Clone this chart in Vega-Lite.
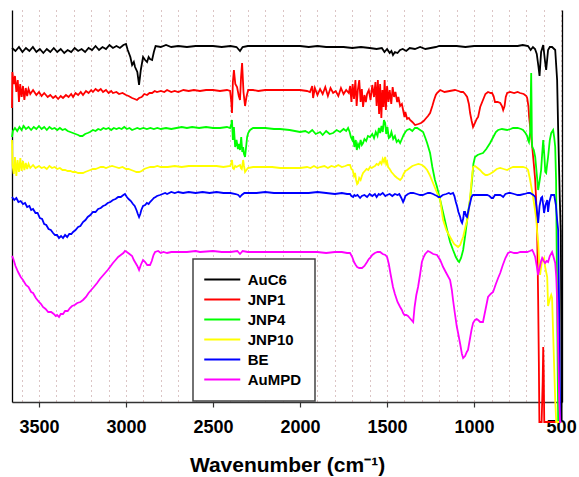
{
"$schema": "https://vega.github.io/schema/vega-lite/v6.json",
"width": 550, "height": 392,
"autosize": {"type": "none"},
"padding": {"left": 12, "top": 10, "right": 17, "bottom": 75},
"background": "white",
"config": {"view": {"stroke": null}, "font": "Liberation Sans",
  "legend": {"strokeColor": "#444444", "strokeWidth": 1.5, "fillColor": "white"},
  "line": {"clip": true, "strokeWidth": 1.8}},
"datasets": {
"AuC6": [{"w":3655,"t":354},{"w":3635,"t":351},{"w":3615,"t":355},{"w":3595,"t":350},{"w":3575,"t":354},{"w":3555,"t":351},{"w":3535,"t":355},{"w":3515,"t":350},{"w":3495,"t":353},{"w":3475,"t":349},{"w":3455,"t":353},{"w":3435,"t":350},{"w":3415,"t":354},{"w":3395,"t":350},{"w":3375,"t":353},{"w":3355,"t":349},{"w":3335,"t":352},{"w":3315,"t":350},{"w":3295,"t":354},{"w":3275,"t":351},{"w":3255,"t":353},{"w":3235,"t":350},{"w":3215,"t":354},{"w":3195,"t":352},{"w":3175,"t":356},{"w":3155,"t":352},{"w":3135,"t":355},{"w":3115,"t":353},{"w":3095,"t":357},{"w":3075,"t":354},{"w":3055,"t":356},{"w":3035,"t":354},{"w":3015,"t":357},{"w":3000,"t":358},{"w":2990,"t":352},{"w":2975,"t":345},{"w":2965,"t":337},{"w":2955,"t":340},{"w":2948,"t":335},{"w":2935,"t":330},{"w":2925,"t":317},{"w":2915,"t":332},{"w":2902,"t":345},{"w":2890,"t":342},{"w":2879,"t":340},{"w":2870,"t":345},{"w":2862,"t":343},{"w":2850,"t":342},{"w":2840,"t":350},{"w":2830,"t":356},{"w":2800,"t":355},{"w":2770,"t":357},{"w":2740,"t":355},{"w":2700,"t":356},{"w":2650,"t":355},{"w":2600,"t":356},{"w":2550,"t":356},{"w":2500,"t":356},{"w":2450,"t":355},{"w":2400,"t":356},{"w":2365,"t":355},{"w":2345,"t":351},{"w":2330,"t":355},{"w":2300,"t":356},{"w":2250,"t":356},{"w":2200,"t":356},{"w":2150,"t":356},{"w":2100,"t":356},{"w":2050,"t":356},{"w":2000,"t":356},{"w":1950,"t":355},{"w":1900,"t":356},{"w":1850,"t":355},{"w":1800,"t":355},{"w":1750,"t":355},{"w":1700,"t":354},{"w":1650,"t":355},{"w":1600,"t":354},{"w":1560,"t":353},{"w":1530,"t":354},{"w":1515,"t":350},{"w":1500,"t":353},{"w":1485,"t":349},{"w":1475,"t":351},{"w":1466,"t":347},{"w":1455,"t":350},{"w":1440,"t":349},{"w":1425,"t":352},{"w":1410,"t":353},{"w":1390,"t":351},{"w":1370,"t":354},{"w":1340,"t":353},{"w":1310,"t":355},{"w":1280,"t":353},{"w":1250,"t":354},{"w":1220,"t":355},{"w":1200,"t":356},{"w":1150,"t":356},{"w":1100,"t":356},{"w":1050,"t":355},{"w":1000,"t":356},{"w":950,"t":356},{"w":900,"t":356},{"w":850,"t":356},{"w":800,"t":356},{"w":750,"t":356},{"w":720,"t":357},{"w":690,"t":356},{"w":675,"t":352},{"w":662,"t":355},{"w":650,"t":353},{"w":640,"t":348},{"w":630,"t":335},{"w":624,"t":326},{"w":615,"t":350},{"w":603,"t":357},{"w":592,"t":340},{"w":586,"t":332},{"w":575,"t":352},{"w":565,"t":355},{"w":552,"t":355},{"w":534,"t":352},{"w":523,"t":322},{"w":517,"t":272},{"w":508,"t":205},{"w":502,"t":170},{"w":499,"t":80},{"w":497,"t":-20}],
"JNP1": [{"w":3655,"t":294},{"w":3653,"t":330},{"w":3645,"t":318},{"w":3638,"t":326},{"w":3630,"t":310},{"w":3622,"t":322},{"w":3615,"t":300},{"w":3608,"t":318},{"w":3600,"t":305},{"w":3592,"t":316},{"w":3584,"t":302},{"w":3576,"t":314},{"w":3568,"t":306},{"w":3560,"t":313},{"w":3550,"t":308},{"w":3534,"t":312},{"w":3515,"t":307},{"w":3500,"t":310},{"w":3485,"t":306},{"w":3470,"t":309},{"w":3450,"t":305},{"w":3435,"t":307},{"w":3419,"t":304},{"w":3405,"t":306},{"w":3390,"t":303},{"w":3375,"t":306},{"w":3362,"t":304},{"w":3345,"t":307},{"w":3330,"t":305},{"w":3315,"t":308},{"w":3304,"t":305},{"w":3290,"t":309},{"w":3275,"t":307},{"w":3260,"t":310},{"w":3247,"t":307},{"w":3230,"t":311},{"w":3215,"t":309},{"w":3200,"t":312},{"w":3190,"t":310},{"w":3175,"t":313},{"w":3160,"t":311},{"w":3145,"t":313},{"w":3132,"t":310},{"w":3115,"t":312},{"w":3100,"t":309},{"w":3085,"t":311},{"w":3075,"t":309},{"w":3055,"t":310},{"w":3040,"t":308},{"w":3020,"t":309},{"w":3000,"t":307},{"w":2985,"t":306},{"w":2965,"t":304},{"w":2950,"t":303},{"w":2937,"t":302},{"w":2925,"t":304},{"w":2910,"t":305},{"w":2895,"t":308},{"w":2879,"t":307},{"w":2865,"t":309},{"w":2850,"t":309},{"w":2835,"t":311},{"w":2822,"t":310},{"w":2800,"t":311},{"w":2780,"t":310},{"w":2764,"t":312},{"w":2740,"t":310},{"w":2720,"t":311},{"w":2700,"t":310},{"w":2670,"t":312},{"w":2640,"t":311},{"w":2610,"t":312},{"w":2575,"t":311},{"w":2540,"t":312},{"w":2500,"t":312},{"w":2460,"t":311},{"w":2420,"t":312},{"w":2402,"t":311},{"w":2395,"t":300},{"w":2391,"t":289},{"w":2386,"t":320},{"w":2380,"t":332},{"w":2372,"t":318},{"w":2362,"t":315},{"w":2352,"t":306},{"w":2345,"t":302},{"w":2339,"t":325},{"w":2333,"t":339},{"w":2325,"t":310},{"w":2316,"t":296},{"w":2308,"t":305},{"w":2298,"t":312},{"w":2270,"t":312},{"w":2240,"t":311},{"w":2200,"t":312},{"w":2160,"t":312},{"w":2115,"t":312},{"w":2060,"t":312},{"w":2000,"t":312},{"w":1960,"t":311},{"w":1943,"t":310},{"w":1930,"t":316},{"w":1925,"t":304},{"w":1915,"t":314},{"w":1900,"t":307},{"w":1885,"t":313},{"w":1870,"t":308},{"w":1855,"t":315},{"w":1840,"t":306},{"w":1825,"t":314},{"w":1810,"t":309},{"w":1795,"t":311},{"w":1780,"t":306},{"w":1765,"t":314},{"w":1750,"t":308},{"w":1735,"t":312},{"w":1720,"t":309},{"w":1712,"t":316},{"w":1705,"t":300},{"w":1698,"t":318},{"w":1690,"t":303},{"w":1682,"t":322},{"w":1675,"t":296},{"w":1668,"t":312},{"w":1660,"t":322},{"w":1652,"t":300},{"w":1645,"t":313},{"w":1638,"t":295},{"w":1630,"t":307},{"w":1622,"t":300},{"w":1615,"t":308},{"w":1605,"t":312},{"w":1595,"t":302},{"w":1585,"t":317},{"w":1575,"t":305},{"w":1567,"t":320},{"w":1560,"t":296},{"w":1553,"t":322},{"w":1546,"t":288},{"w":1540,"t":318},{"w":1533,"t":284},{"w":1527,"t":312},{"w":1520,"t":295},{"w":1514,"t":322},{"w":1507,"t":292},{"w":1500,"t":316},{"w":1492,"t":300},{"w":1485,"t":312},{"w":1476,"t":298},{"w":1468,"t":315},{"w":1460,"t":305},{"w":1452,"t":310},{"w":1442,"t":300},{"w":1435,"t":305},{"w":1425,"t":296},{"w":1415,"t":298},{"w":1408,"t":292},{"w":1400,"t":285},{"w":1395,"t":290},{"w":1385,"t":283},{"w":1375,"t":284},{"w":1368,"t":282},{"w":1355,"t":280},{"w":1339,"t":277},{"w":1320,"t":278},{"w":1305,"t":279},{"w":1290,"t":281},{"w":1275,"t":284},{"w":1265,"t":286},{"w":1253,"t":289},{"w":1240,"t":296},{"w":1230,"t":302},{"w":1220,"t":307},{"w":1213,"t":309},{"w":1195,"t":312},{"w":1170,"t":310},{"w":1140,"t":311},{"w":1110,"t":312},{"w":1090,"t":311},{"w":1075,"t":310},{"w":1063,"t":310},{"w":1052,"t":308},{"w":1040,"t":305},{"w":1030,"t":298},{"w":1023,"t":289},{"w":1014,"t":281},{"w":1006,"t":275},{"w":995,"t":279},{"w":985,"t":283},{"w":977,"t":285},{"w":965,"t":295},{"w":949,"t":302},{"w":935,"t":308},{"w":920,"t":310},{"w":905,"t":309},{"w":897,"t":309},{"w":888,"t":306},{"w":880,"t":300},{"w":865,"t":300},{"w":850,"t":299},{"w":840,"t":296},{"w":833,"t":292},{"w":825,"t":296},{"w":818,"t":305},{"w":810,"t":309},{"w":793,"t":310},{"w":770,"t":309},{"w":750,"t":310},{"w":736,"t":309},{"w":715,"t":308},{"w":700,"t":306},{"w":695,"t":304},{"w":688,"t":296},{"w":684,"t":285},{"w":676,"t":272},{"w":666,"t":255},{"w":657,"t":238},{"w":649,"t":222},{"w":643,"t":200},{"w":638,"t":172},{"w":635,"t":140},{"w":632,"t":102},{"w":628,"t":40},{"w":625,"t":-20},{"w":612,"t":-20},{"w":606,"t":20},{"w":603,"t":55},{"w":600,"t":30},{"w":597,"t":-20},{"w":500,"t":-20}],
"JNP4": [{"w":3655,"t":265},{"w":3650,"t":271},{"w":3638,"t":274},{"w":3625,"t":271},{"w":3612,"t":275},{"w":3600,"t":272},{"w":3588,"t":276},{"w":3575,"t":273},{"w":3560,"t":275},{"w":3545,"t":272},{"w":3530,"t":275},{"w":3515,"t":273},{"w":3500,"t":276},{"w":3485,"t":273},{"w":3470,"t":275},{"w":3455,"t":272},{"w":3440,"t":275},{"w":3425,"t":273},{"w":3410,"t":274},{"w":3395,"t":272},{"w":3380,"t":274},{"w":3365,"t":272},{"w":3350,"t":273},{"w":3335,"t":271},{"w":3320,"t":270},{"w":3305,"t":269},{"w":3290,"t":268},{"w":3275,"t":267},{"w":3264,"t":266},{"w":3250,"t":266},{"w":3235,"t":268},{"w":3220,"t":269},{"w":3207,"t":270},{"w":3190,"t":272},{"w":3175,"t":271},{"w":3160,"t":273},{"w":3145,"t":272},{"w":3130,"t":274},{"w":3115,"t":273},{"w":3100,"t":274},{"w":3085,"t":272},{"w":3070,"t":274},{"w":3055,"t":273},{"w":3040,"t":274},{"w":3025,"t":273},{"w":3010,"t":275},{"w":2995,"t":273},{"w":2980,"t":274},{"w":2965,"t":272},{"w":2950,"t":273},{"w":2935,"t":274},{"w":2920,"t":273},{"w":2900,"t":274},{"w":2880,"t":273},{"w":2860,"t":274},{"w":2840,"t":273},{"w":2820,"t":274},{"w":2800,"t":273},{"w":2770,"t":274},{"w":2740,"t":273},{"w":2710,"t":274},{"w":2680,"t":275},{"w":2650,"t":274},{"w":2620,"t":275},{"w":2580,"t":274},{"w":2540,"t":275},{"w":2500,"t":274},{"w":2460,"t":274},{"w":2420,"t":275},{"w":2402,"t":274},{"w":2395,"t":278},{"w":2391,"t":282},{"w":2386,"t":262},{"w":2380,"t":275},{"w":2373,"t":255},{"w":2365,"t":262},{"w":2357,"t":253},{"w":2350,"t":258},{"w":2345,"t":252},{"w":2338,"t":265},{"w":2332,"t":250},{"w":2327,"t":255},{"w":2322,"t":248},{"w":2316,"t":245},{"w":2310,"t":255},{"w":2304,"t":265},{"w":2298,"t":269},{"w":2287,"t":272},{"w":2270,"t":274},{"w":2250,"t":274},{"w":2200,"t":274},{"w":2150,"t":273},{"w":2115,"t":273},{"w":2060,"t":272},{"w":2000,"t":270},{"w":1970,"t":271},{"w":1950,"t":269},{"w":1930,"t":272},{"w":1910,"t":268},{"w":1885,"t":270},{"w":1870,"t":267},{"w":1850,"t":271},{"w":1830,"t":268},{"w":1810,"t":269},{"w":1790,"t":272},{"w":1770,"t":270},{"w":1750,"t":273},{"w":1735,"t":271},{"w":1724,"t":274},{"w":1715,"t":270},{"w":1708,"t":265},{"w":1700,"t":262},{"w":1695,"t":266},{"w":1688,"t":255},{"w":1680,"t":262},{"w":1674,"t":252},{"w":1667,"t":258},{"w":1660,"t":255},{"w":1652,"t":262},{"w":1645,"t":257},{"w":1638,"t":259},{"w":1630,"t":263},{"w":1620,"t":261},{"w":1610,"t":266},{"w":1598,"t":265},{"w":1585,"t":268},{"w":1575,"t":264},{"w":1565,"t":270},{"w":1555,"t":266},{"w":1547,"t":274},{"w":1540,"t":269},{"w":1532,"t":276},{"w":1525,"t":270},{"w":1518,"t":282},{"w":1511,"t":279},{"w":1505,"t":268},{"w":1498,"t":275},{"w":1490,"t":264},{"w":1483,"t":265},{"w":1475,"t":270},{"w":1465,"t":263},{"w":1455,"t":266},{"w":1445,"t":260},{"w":1435,"t":262},{"w":1425,"t":259},{"w":1415,"t":263},{"w":1405,"t":267},{"w":1395,"t":270},{"w":1385,"t":272},{"w":1370,"t":273},{"w":1355,"t":271},{"w":1340,"t":274},{"w":1327,"t":274},{"w":1310,"t":272},{"w":1293,"t":270},{"w":1280,"t":264},{"w":1270,"t":259},{"w":1253,"t":249},{"w":1240,"t":235},{"w":1225,"t":222},{"w":1213,"t":215},{"w":1195,"t":202},{"w":1175,"t":187},{"w":1155,"t":172},{"w":1138,"t":160},{"w":1121,"t":152},{"w":1105,"t":145},{"w":1092,"t":141},{"w":1086,"t":140},{"w":1075,"t":144},{"w":1063,"t":152},{"w":1050,"t":168},{"w":1040,"t":182},{"w":1030,"t":195},{"w":1023,"t":202},{"w":1012,"t":222},{"w":1004,"t":238},{"w":995,"t":245},{"w":980,"t":247},{"w":966,"t":248},{"w":949,"t":249},{"w":930,"t":253},{"w":908,"t":259},{"w":890,"t":265},{"w":875,"t":270},{"w":862,"t":272},{"w":840,"t":273},{"w":810,"t":272},{"w":790,"t":273},{"w":776,"t":274},{"w":750,"t":274},{"w":730,"t":273},{"w":719,"t":272},{"w":705,"t":269},{"w":695,"t":266},{"w":690,"t":262},{"w":685,"t":260},{"w":678,"t":270},{"w":674,"t":310},{"w":672,"t":329},{"w":670,"t":300},{"w":668,"t":262},{"w":666,"t":255},{"w":657,"t":252},{"w":649,"t":245},{"w":640,"t":228},{"w":632,"t":212},{"w":623,"t":222},{"w":615,"t":232},{"w":609,"t":248},{"w":603,"t":262},{"w":596,"t":245},{"w":591,"t":230},{"w":586,"t":229},{"w":580,"t":238},{"w":575,"t":245},{"w":565,"t":262},{"w":557,"t":269},{"w":546,"t":272},{"w":540,"t":265},{"w":534,"t":255},{"w":529,"t":222},{"w":526,"t":160},{"w":523,"t":102},{"w":520,"t":40},{"w":517,"t":-20},{"w":500,"t":-20}],
"JNP10": [{"w":3655,"t":262},{"w":3652,"t":237},{"w":3645,"t":228},{"w":3638,"t":245},{"w":3630,"t":226},{"w":3623,"t":242},{"w":3615,"t":230},{"w":3607,"t":244},{"w":3600,"t":231},{"w":3592,"t":241},{"w":3584,"t":232},{"w":3576,"t":239},{"w":3568,"t":233},{"w":3560,"t":238},{"w":3550,"t":234},{"w":3534,"t":237},{"w":3520,"t":234},{"w":3500,"t":236},{"w":3485,"t":234},{"w":3470,"t":235},{"w":3455,"t":233},{"w":3440,"t":236},{"w":3425,"t":234},{"w":3410,"t":235},{"w":3395,"t":233},{"w":3380,"t":234},{"w":3365,"t":232},{"w":3350,"t":232},{"w":3335,"t":231},{"w":3320,"t":231},{"w":3305,"t":230},{"w":3290,"t":230},{"w":3275,"t":229},{"w":3260,"t":229},{"w":3247,"t":229},{"w":3235,"t":230},{"w":3220,"t":231},{"w":3205,"t":232},{"w":3190,"t":233},{"w":3175,"t":233},{"w":3160,"t":234},{"w":3145,"t":235},{"w":3130,"t":235},{"w":3115,"t":234},{"w":3100,"t":235},{"w":3080,"t":236},{"w":3060,"t":235},{"w":3040,"t":234},{"w":3020,"t":235},{"w":3000,"t":233},{"w":2985,"t":233},{"w":2970,"t":232},{"w":2955,"t":231},{"w":2940,"t":230},{"w":2925,"t":230},{"w":2910,"t":231},{"w":2895,"t":233},{"w":2880,"t":234},{"w":2860,"t":235},{"w":2840,"t":235},{"w":2820,"t":236},{"w":2800,"t":235},{"w":2760,"t":235},{"w":2720,"t":236},{"w":2680,"t":235},{"w":2640,"t":236},{"w":2600,"t":236},{"w":2560,"t":236},{"w":2520,"t":236},{"w":2480,"t":236},{"w":2440,"t":235},{"w":2402,"t":236},{"w":2395,"t":239},{"w":2391,"t":242},{"w":2386,"t":234},{"w":2380,"t":233},{"w":2373,"t":236},{"w":2365,"t":235},{"w":2355,"t":236},{"w":2345,"t":237},{"w":2340,"t":234},{"w":2335,"t":233},{"w":2330,"t":238},{"w":2327,"t":242},{"w":2322,"t":236},{"w":2316,"t":230},{"w":2308,"t":232},{"w":2300,"t":234},{"w":2270,"t":235},{"w":2240,"t":235},{"w":2200,"t":235},{"w":2160,"t":235},{"w":2115,"t":234},{"w":2060,"t":234},{"w":2000,"t":234},{"w":1960,"t":235},{"w":1940,"t":234},{"w":1920,"t":236},{"w":1900,"t":234},{"w":1885,"t":235},{"w":1860,"t":236},{"w":1840,"t":234},{"w":1820,"t":236},{"w":1800,"t":235},{"w":1780,"t":237},{"w":1760,"t":235},{"w":1740,"t":236},{"w":1725,"t":237},{"w":1713,"t":237},{"w":1705,"t":233},{"w":1698,"t":232},{"w":1690,"t":226},{"w":1684,"t":229},{"w":1678,"t":222},{"w":1672,"t":218},{"w":1667,"t":219},{"w":1660,"t":224},{"w":1652,"t":222},{"w":1645,"t":226},{"w":1638,"t":229},{"w":1628,"t":231},{"w":1618,"t":233},{"w":1608,"t":232},{"w":1598,"t":235},{"w":1588,"t":234},{"w":1580,"t":235},{"w":1570,"t":236},{"w":1560,"t":238},{"w":1550,"t":237},{"w":1540,"t":240},{"w":1532,"t":238},{"w":1525,"t":243},{"w":1518,"t":240},{"w":1511,"t":245},{"w":1505,"t":238},{"w":1500,"t":240},{"w":1494,"t":235},{"w":1485,"t":233},{"w":1475,"t":230},{"w":1465,"t":228},{"w":1455,"t":226},{"w":1442,"t":224},{"w":1433,"t":223},{"w":1425,"t":222},{"w":1415,"t":224},{"w":1405,"t":228},{"w":1395,"t":231},{"w":1385,"t":232},{"w":1370,"t":234},{"w":1355,"t":236},{"w":1339,"t":237},{"w":1320,"t":238},{"w":1299,"t":237},{"w":1285,"t":235},{"w":1270,"t":232},{"w":1255,"t":227},{"w":1236,"t":219},{"w":1215,"t":210},{"w":1195,"t":202},{"w":1178,"t":182},{"w":1160,"t":172},{"w":1138,"t":165},{"w":1115,"t":158},{"w":1100,"t":156},{"w":1092,"t":155},{"w":1080,"t":157},{"w":1070,"t":162},{"w":1063,"t":165},{"w":1050,"t":175},{"w":1035,"t":185},{"w":1030,"t":193},{"w":1023,"t":205},{"w":1015,"t":220},{"w":1006,"t":235},{"w":995,"t":236},{"w":980,"t":234},{"w":966,"t":232},{"w":950,"t":229},{"w":935,"t":227},{"w":925,"t":227},{"w":910,"t":228},{"w":891,"t":230},{"w":870,"t":233},{"w":850,"t":234},{"w":830,"t":233},{"w":810,"t":232},{"w":790,"t":234},{"w":776,"t":235},{"w":750,"t":235},{"w":719,"t":235},{"w":700,"t":234},{"w":690,"t":232},{"w":678,"t":222},{"w":670,"t":214},{"w":661,"t":205},{"w":650,"t":192},{"w":642,"t":182},{"w":638,"t":170},{"w":632,"t":160},{"w":626,"t":140},{"w":621,"t":127},{"w":615,"t":135},{"w":609,"t":142},{"w":603,"t":143},{"w":598,"t":144},{"w":592,"t":135},{"w":586,"t":130},{"w":580,"t":125},{"w":575,"t":96},{"w":569,"t":100},{"w":563,"t":104},{"w":557,"t":107},{"w":552,"t":104},{"w":546,"t":69},{"w":540,"t":35},{"w":534,"t":2},{"w":528,"t":-20},{"w":500,"t":-20}],
"BE": [{"w":3655,"t":205},{"w":3642,"t":202},{"w":3630,"t":204},{"w":3618,"t":200},{"w":3605,"t":201},{"w":3592,"t":198},{"w":3580,"t":199},{"w":3568,"t":195},{"w":3555,"t":196},{"w":3545,"t":192},{"w":3534,"t":193},{"w":3520,"t":189},{"w":3508,"t":189},{"w":3495,"t":184},{"w":3482,"t":183},{"w":3470,"t":178},{"w":3458,"t":177},{"w":3445,"t":173},{"w":3432,"t":172},{"w":3419,"t":169},{"w":3408,"t":167},{"w":3396,"t":167},{"w":3385,"t":164},{"w":3373,"t":166},{"w":3362,"t":164},{"w":3350,"t":167},{"w":3338,"t":165},{"w":3326,"t":168},{"w":3314,"t":168},{"w":3304,"t":170},{"w":3290,"t":172},{"w":3275,"t":175},{"w":3262,"t":176},{"w":3247,"t":180},{"w":3233,"t":182},{"w":3220,"t":185},{"w":3205,"t":187},{"w":3190,"t":190},{"w":3175,"t":190},{"w":3160,"t":193},{"w":3145,"t":194},{"w":3132,"t":196},{"w":3118,"t":197},{"w":3105,"t":199},{"w":3090,"t":200},{"w":3075,"t":202},{"w":3060,"t":203},{"w":3045,"t":205},{"w":3030,"t":205},{"w":3015,"t":207},{"w":3006,"t":208},{"w":2995,"t":205},{"w":2985,"t":203},{"w":2972,"t":201},{"w":2960,"t":198},{"w":2950,"t":196},{"w":2940,"t":192},{"w":2932,"t":188},{"w":2925,"t":185},{"w":2918,"t":188},{"w":2912,"t":192},{"w":2902,"t":196},{"w":2890,"t":197},{"w":2880,"t":199},{"w":2870,"t":198},{"w":2862,"t":200},{"w":2850,"t":202},{"w":2840,"t":204},{"w":2830,"t":205},{"w":2822,"t":206},{"w":2805,"t":207},{"w":2790,"t":208},{"w":2775,"t":209},{"w":2764,"t":208},{"w":2740,"t":210},{"w":2720,"t":209},{"w":2700,"t":210},{"w":2672,"t":209},{"w":2640,"t":210},{"w":2600,"t":209},{"w":2560,"t":210},{"w":2520,"t":209},{"w":2480,"t":210},{"w":2440,"t":209},{"w":2400,"t":209},{"w":2370,"t":208},{"w":2355,"t":207},{"w":2345,"t":205},{"w":2335,"t":207},{"w":2320,"t":209},{"w":2290,"t":209},{"w":2250,"t":209},{"w":2200,"t":210},{"w":2150,"t":209},{"w":2115,"t":209},{"w":2060,"t":209},{"w":2000,"t":209},{"w":1950,"t":209},{"w":1900,"t":210},{"w":1850,"t":209},{"w":1800,"t":208},{"w":1760,"t":209},{"w":1730,"t":208},{"w":1713,"t":208},{"w":1705,"t":206},{"w":1695,"t":205},{"w":1688,"t":207},{"w":1680,"t":206},{"w":1670,"t":207},{"w":1660,"t":205},{"w":1655,"t":204},{"w":1645,"t":206},{"w":1630,"t":207},{"w":1615,"t":205},{"w":1600,"t":208},{"w":1585,"t":206},{"w":1570,"t":208},{"w":1560,"t":205},{"w":1548,"t":208},{"w":1540,"t":207},{"w":1525,"t":209},{"w":1510,"t":206},{"w":1500,"t":207},{"w":1485,"t":208},{"w":1470,"t":206},{"w":1455,"t":208},{"w":1440,"t":207},{"w":1430,"t":208},{"w":1418,"t":204},{"w":1408,"t":200},{"w":1400,"t":203},{"w":1395,"t":206},{"w":1380,"t":208},{"w":1365,"t":209},{"w":1350,"t":209},{"w":1330,"t":208},{"w":1310,"t":207},{"w":1295,"t":207},{"w":1281,"t":208},{"w":1265,"t":209},{"w":1253,"t":209},{"w":1236,"t":208},{"w":1225,"t":207},{"w":1213,"t":206},{"w":1205,"t":205},{"w":1195,"t":205},{"w":1180,"t":207},{"w":1160,"t":208},{"w":1145,"t":209},{"w":1135,"t":208},{"w":1121,"t":209},{"w":1113,"t":206},{"w":1105,"t":200},{"w":1098,"t":196},{"w":1090,"t":190},{"w":1080,"t":185},{"w":1075,"t":181},{"w":1069,"t":179},{"w":1062,"t":184},{"w":1058,"t":190},{"w":1052,"t":190},{"w":1046,"t":186},{"w":1040,"t":185},{"w":1032,"t":192},{"w":1023,"t":199},{"w":1015,"t":205},{"w":1006,"t":207},{"w":995,"t":207},{"w":983,"t":207},{"w":965,"t":207},{"w":950,"t":207},{"w":937,"t":207},{"w":925,"t":207},{"w":912,"t":206},{"w":900,"t":204},{"w":891,"t":204},{"w":880,"t":207},{"w":865,"t":207},{"w":850,"t":207},{"w":840,"t":206},{"w":833,"t":205},{"w":820,"t":208},{"w":800,"t":209},{"w":793,"t":209},{"w":770,"t":208},{"w":750,"t":207},{"w":736,"t":207},{"w":710,"t":208},{"w":690,"t":209},{"w":678,"t":209},{"w":660,"t":207},{"w":649,"t":205},{"w":641,"t":195},{"w":632,"t":179},{"w":624,"t":196},{"w":615,"t":204},{"w":609,"t":205},{"w":603,"t":197},{"w":598,"t":189},{"w":590,"t":197},{"w":580,"t":202},{"w":575,"t":190},{"w":568,"t":200},{"w":557,"t":207},{"w":547,"t":207},{"w":540,"t":207},{"w":530,"t":197},{"w":523,"t":182},{"w":517,"t":172},{"w":512,"t":100},{"w":508,"t":20},{"w":505,"t":-20},{"w":500,"t":-20}],
"AuMPD": [{"w":3655,"t":146},{"w":3649,"t":144},{"w":3635,"t":136},{"w":3620,"t":130},{"w":3605,"t":125},{"w":3592,"t":122},{"w":3575,"t":117},{"w":3560,"t":115},{"w":3545,"t":110},{"w":3534,"t":109},{"w":3518,"t":104},{"w":3500,"t":100},{"w":3488,"t":98},{"w":3477,"t":95},{"w":3462,"t":93},{"w":3447,"t":90},{"w":3430,"t":90},{"w":3415,"t":88},{"w":3404,"t":86},{"w":3396,"t":87},{"w":3385,"t":85},{"w":3375,"t":88},{"w":3362,"t":88},{"w":3350,"t":91},{"w":3335,"t":91},{"w":3322,"t":94},{"w":3310,"t":96},{"w":3295,"t":97},{"w":3280,"t":99},{"w":3262,"t":100},{"w":3247,"t":102},{"w":3230,"t":105},{"w":3215,"t":109},{"w":3200,"t":112},{"w":3185,"t":115},{"w":3166,"t":119},{"w":3150,"t":123},{"w":3135,"t":126},{"w":3120,"t":129},{"w":3105,"t":132},{"w":3092,"t":135},{"w":3075,"t":139},{"w":3060,"t":142},{"w":3045,"t":145},{"w":3030,"t":147},{"w":3015,"t":149},{"w":3006,"t":151},{"w":2995,"t":150},{"w":2980,"t":148},{"w":2965,"t":146},{"w":2955,"t":142},{"w":2945,"t":139},{"w":2935,"t":136},{"w":2925,"t":132},{"w":2915,"t":137},{"w":2902,"t":142},{"w":2890,"t":140},{"w":2878,"t":137},{"w":2862,"t":137},{"w":2852,"t":141},{"w":2842,"t":147},{"w":2833,"t":150},{"w":2815,"t":151},{"w":2800,"t":149},{"w":2785,"t":150},{"w":2764,"t":149},{"w":2740,"t":150},{"w":2700,"t":150},{"w":2650,"t":150},{"w":2600,"t":151},{"w":2575,"t":150},{"w":2500,"t":151},{"w":2450,"t":150},{"w":2400,"t":150},{"w":2360,"t":151},{"w":2345,"t":148},{"w":2330,"t":151},{"w":2300,"t":150},{"w":2250,"t":150},{"w":2200,"t":150},{"w":2150,"t":150},{"w":2100,"t":150},{"w":2050,"t":150},{"w":2000,"t":150},{"w":1950,"t":150},{"w":1900,"t":150},{"w":1850,"t":149},{"w":1800,"t":150},{"w":1760,"t":150},{"w":1730,"t":149},{"w":1713,"t":149},{"w":1700,"t":145},{"w":1690,"t":140},{"w":1680,"t":137},{"w":1672,"t":135},{"w":1660,"t":134},{"w":1644,"t":134},{"w":1630,"t":136},{"w":1615,"t":140},{"w":1605,"t":143},{"w":1598,"t":144},{"w":1585,"t":147},{"w":1570,"t":149},{"w":1555,"t":150},{"w":1540,"t":150},{"w":1525,"t":148},{"w":1510,"t":147},{"w":1500,"t":145},{"w":1490,"t":138},{"w":1480,"t":128},{"w":1466,"t":115},{"w":1455,"t":108},{"w":1440,"t":100},{"w":1425,"t":95},{"w":1415,"t":92},{"w":1408,"t":89},{"w":1400,"t":87},{"w":1390,"t":87},{"w":1380,"t":86},{"w":1370,"t":84},{"w":1360,"t":82},{"w":1350,"t":80},{"w":1342,"t":95},{"w":1332,"t":107},{"w":1322,"t":115},{"w":1310,"t":128},{"w":1300,"t":140},{"w":1290,"t":145},{"w":1281,"t":148},{"w":1265,"t":151},{"w":1253,"t":150},{"w":1235,"t":148},{"w":1213,"t":147},{"w":1195,"t":142},{"w":1178,"t":135},{"w":1160,"t":129},{"w":1138,"t":122},{"w":1128,"t":112},{"w":1121,"t":102},{"w":1110,"t":88},{"w":1100,"t":76},{"w":1092,"t":69},{"w":1080,"t":58},{"w":1070,"t":48},{"w":1063,"t":44},{"w":1052,"t":46},{"w":1042,"t":50},{"w":1035,"t":52},{"w":1025,"t":62},{"w":1015,"t":72},{"w":1006,"t":79},{"w":995,"t":82},{"w":985,"t":83},{"w":977,"t":82},{"w":965,"t":80},{"w":958,"t":80},{"w":949,"t":80},{"w":935,"t":92},{"w":920,"t":105},{"w":905,"t":108},{"w":891,"t":110},{"w":875,"t":118},{"w":862,"t":124},{"w":850,"t":129},{"w":835,"t":137},{"w":820,"t":144},{"w":805,"t":149},{"w":790,"t":150},{"w":770,"t":149},{"w":753,"t":149},{"w":735,"t":150},{"w":715,"t":150},{"w":695,"t":150},{"w":680,"t":151},{"w":666,"t":152},{"w":660,"t":150},{"w":649,"t":145},{"w":640,"t":136},{"w":632,"t":127},{"w":624,"t":134},{"w":615,"t":141},{"w":609,"t":144},{"w":600,"t":141},{"w":592,"t":139},{"w":583,"t":141},{"w":575,"t":140},{"w":565,"t":146},{"w":552,"t":150},{"w":545,"t":146},{"w":534,"t":139},{"w":528,"t":125},{"w":523,"t":102},{"w":517,"t":52},{"w":511,"t":2},{"w":506,"t":-20},{"w":500,"t":-20}]
},
"resolve": {"axis": {"y": "independent"}},
"encoding": {
 "x": {"field": "w", "type": "quantitative",
   "scale": {"domain": [495, 3655], "reverse": true, "nice": false, "zero": false},
   "axis": {"values": [500,600,700,800,900,1000,1100,1200,1300,1400,1500,1600,1700,1800,1900,2000,2100,2200,2300,2400,2500,2600,2700,2800,2900,3000,3100,3200,3300,3400,3500,3600],
     "format": "d", "labelExpr": "datum.value % 500 === 0 ? datum.label : ''", "labelOverlap": false,
     "title": "Wavenumber (cm⁻¹)", "grid": true, "gridDash": [1, 4], "gridColor": "#b98a8a", "gridWidth": 1,
     "tickOpacity": {"condition": {"test": "datum.value % 500 === 0", "value": 1}, "value": 0},
     "tickSize": 5, "tickColor": "#333333", "tickWidth": 1.2, "domainColor": "#333333", "domainWidth": 1.3,
     "labelFontSize": 18, "labelFontWeight": "bold", "labelColor": "black", "labelPadding": 11, "labelFlush": false,
     "titleFontSize": 21, "titleFontWeight": "bold", "titleColor": "black", "titlePadding": 18}}
},
"layer": [
 {
  "encoding": {
   "y": {"field": "t", "type": "quantitative",
     "scale": {"domain": [0, 392], "nice": false, "zero": false},
     "axis": {"orient": "left", "title": null, "labels": false, "ticks": false, "grid": false, "domainColor": "black", "domainWidth": 1.3}},
   "color": {"datum": "AuC6", "type": "nominal",
     "scale": {"domain": ["AuC6", "JNP1", "JNP4", "JNP10", "BE", "AuMPD"], "range": ["#000000", "#ff0000", "#00ff00", "#ffff00", "#0000ff", "#ff00ff"]},
     "legend": {"title": null, "orient": "none", "legendX": 181, "legendY": 249, "symbolType": "M-3,0H3", "symbolSize": 144, "symbolStrokeWidth": 2, "symbolOffset": 8.75,
       "labelFontSize": 15, "labelFontWeight": "bold", "labelColor": "black", "labelOffset": 18, "padding": 13, "rowPadding": 4}}
  },
  "layer": [
   {"data": {"name": "AuC6"}, "mark": {"type": "line"}, "encoding": {"color": {"datum": "AuC6"}}},
   {"data": {"name": "JNP1"}, "mark": {"type": "line"}, "encoding": {"color": {"datum": "JNP1"}}},
   {"data": {"name": "JNP4"}, "mark": {"type": "line"}, "encoding": {"color": {"datum": "JNP4"}}},
   {"data": {"name": "JNP10"}, "mark": {"type": "line"}, "encoding": {"color": {"datum": "JNP10"}}},
   {"data": {"name": "BE"}, "mark": {"type": "line"}, "encoding": {"color": {"datum": "BE"}}},
   {"data": {"name": "AuMPD"}, "mark": {"type": "line"}, "encoding": {"color": {"datum": "AuMPD"}}}
  ]
 },
 {
  "data": {"name": "AuMPD"},
  "mark": {"type": "line", "opacity": 0},
  "encoding": {
   "y": {"field": "t", "type": "quantitative",
     "axis": {"orient": "right", "title": null, "labels": false, "ticks": false, "grid": false, "domainColor": "black", "domainWidth": 1.3}}
  }
 }
]
}
